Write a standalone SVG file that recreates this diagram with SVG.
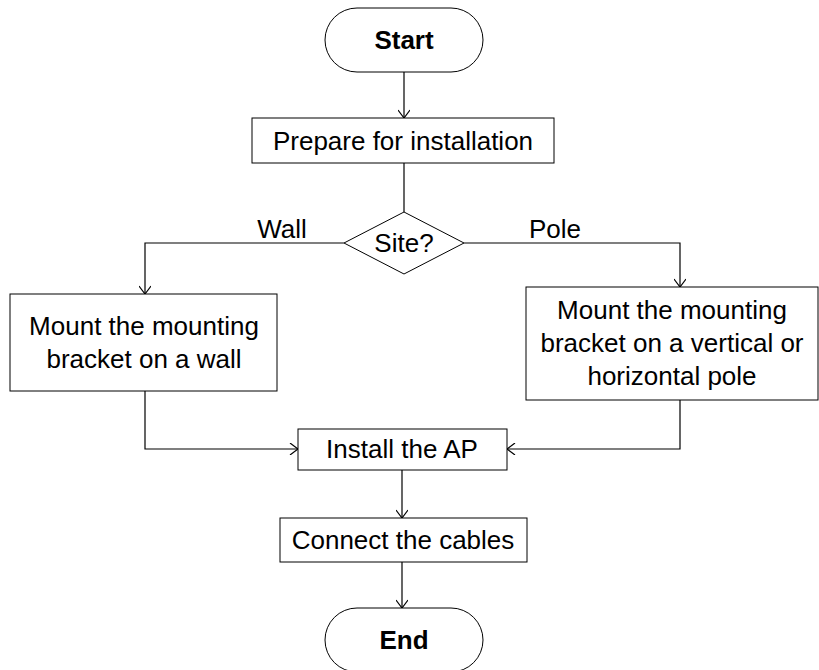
<svg xmlns="http://www.w3.org/2000/svg" width="819" height="670" viewBox="0 0 819 670">
<defs>
<style>
.box{fill:#fff;stroke:#000;stroke-width:1}
.t{font-family:"Liberation Sans",Arial,sans-serif;font-size:26px;fill:#000;text-anchor:middle}
.b{font-weight:bold}
.c{fill:none;stroke:#000;stroke-width:1.2}
</style>
<marker id="ah" markerWidth="12" markerHeight="12" refX="10" refY="6" orient="auto" markerUnits="userSpaceOnUse">
<path d="M2,0 L10,6 L2,12" fill="none" stroke="#000" stroke-width="1.2"/>
</marker>
</defs>
<rect width="819" height="670" fill="#fff"/>
<g id="connectors">
<path class="c" d="M404,72 V118" marker-end="url(#ah)"/>
<path class="c" d="M404,163 V212"/>
<path class="c" d="M344,243 H145 V294" marker-end="url(#ah)"/>
<path class="c" d="M464,243 H680 V287" marker-end="url(#ah)"/>
<path class="c" d="M145,391 V449 H298" marker-end="url(#ah)"/>
<path class="c" d="M680,400 V449 H507" marker-end="url(#ah)"/>
<path class="c" d="M402,470 V518" marker-end="url(#ah)"/>
<path class="c" d="M402,562 V608" marker-end="url(#ah)"/>
<text class="t" x="282" y="238">Wall</text>
<text class="t" x="555" y="238">Pole</text>
</g>
<g id="start">
<rect class="box" x="325" y="8" width="158" height="64" rx="32" ry="32"/>
<text class="t b" x="404" y="49">Start</text>
</g>
<g id="prepare">
<rect class="box" x="252" y="118" width="302" height="45"/>
<text class="t" x="403" y="150">Prepare for installation</text>
</g>
<g id="site">
<polygon class="box" points="404,212 464,243 404,274 344,243"/>
<text class="t" x="404" y="252">Site?</text>
</g>
<g id="wall">
<rect class="box" x="10" y="294" width="267" height="97"/>
<text class="t" x="144" y="335">Mount the mounting</text>
<text class="t" x="144" y="368">bracket on a wall</text>
</g>
<g id="pole">
<rect class="box" x="526" y="287" width="292" height="113"/>
<text class="t" x="672" y="319">Mount the mounting</text>
<text class="t" x="672" y="352">bracket on a vertical or</text>
<text class="t" x="672" y="385">horizontal pole</text>
</g>
<g id="install">
<rect class="box" x="298" y="429" width="209" height="41"/>
<text class="t" x="402" y="458">Install the AP</text>
</g>
<g id="connect">
<rect class="box" x="280" y="518" width="247" height="44"/>
<text class="t" x="403" y="549">Connect the cables</text>
</g>
<g id="end">
<rect class="box" x="325" y="608" width="158" height="64" rx="32" ry="32"/>
<text class="t b" x="404" y="649">End</text>
</g>
</svg>
